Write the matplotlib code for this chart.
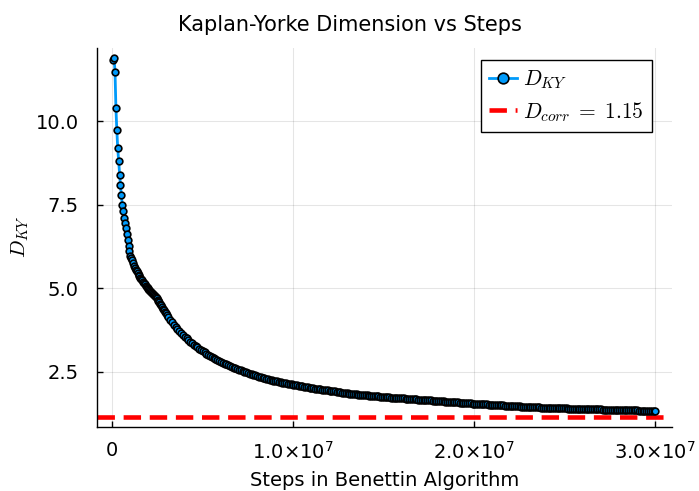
import numpy as np
import matplotlib
matplotlib.use("Agg")
import matplotlib.pyplot as plt

plt.rcParams['font.family'] = ['DejaVu Sans']
plt.rcParams['mathtext.fontset'] = 'cm'

# Kaplan-Yorke dimension estimates along the Benettin run
# first 3e6 steps sampled every 5e4 steps
early_steps = np.arange(1, 61) * 5e4
early_dky = [
    11.83, 11.89, 11.49, 10.40, 9.74, 9.19, 8.81, 8.39, 8.08, 7.78,
    7.50, 7.32, 7.10, 6.95, 6.80, 6.62, 6.45, 6.27, 6.12, 5.98,
    5.91, 5.84, 5.75, 5.68, 5.62, 5.56, 5.51, 5.46, 5.41, 5.37,
    5.32, 5.28, 5.24, 5.20, 5.16, 5.12, 5.08, 5.04, 5.01, 4.98,
    4.95, 4.92, 4.89, 4.86, 4.83, 4.80, 4.76, 4.73, 4.70, 4.66,
    4.62, 4.58, 4.54, 4.49, 4.44, 4.38, 4.34, 4.29, 4.25, 4.21,
]
# remainder of the run sampled every 1e5 steps
late_steps = np.arange(31, 301) * 1e5
late_dky = [
    4.13, 4.05, 3.98, 3.91, 3.84, 3.78, 3.72, 3.67, 3.61, 3.55,
    3.50, 3.45, 3.40, 3.35, 3.31, 3.27, 3.23, 3.19, 3.15, 3.11,
    3.08, 3.04, 3.01, 2.97, 2.94, 2.91, 2.88, 2.85, 2.82, 2.79,
    2.77, 2.74, 2.72, 2.69, 2.67, 2.65, 2.62, 2.60, 2.58, 2.56,
    2.54, 2.52, 2.50, 2.48, 2.46, 2.44, 2.42, 2.41, 2.39, 2.37,
    2.35, 2.34, 2.32, 2.31, 2.29, 2.28, 2.26, 2.25, 2.23, 2.22,
    2.21, 2.20, 2.18, 2.17, 2.16, 2.15, 2.14, 2.13, 2.12, 2.11,
    2.10, 2.09, 2.08, 2.07, 2.06, 2.05, 2.04, 2.03, 2.02, 2.01,
    2.00, 1.99, 1.99, 1.98, 1.97, 1.96, 1.95, 1.95, 1.94, 1.93,
    1.92, 1.91, 1.91, 1.90, 1.89, 1.88, 1.87, 1.87, 1.86, 1.85,
    1.84, 1.84, 1.83, 1.83, 1.82, 1.81, 1.81, 1.80, 1.80, 1.79,
    1.79, 1.78, 1.78, 1.77, 1.77, 1.76, 1.76, 1.75, 1.75, 1.74,
    1.74, 1.73, 1.73, 1.72, 1.72, 1.72, 1.71, 1.71, 1.70, 1.70,
    1.70, 1.69, 1.69, 1.68, 1.68, 1.68, 1.67, 1.67, 1.66, 1.66,
    1.66, 1.65, 1.65, 1.64, 1.64, 1.64, 1.63, 1.63, 1.62, 1.62,
    1.62, 1.61, 1.61, 1.60, 1.60, 1.60, 1.59, 1.59, 1.58, 1.58,
    1.58, 1.57, 1.57, 1.56, 1.56, 1.56, 1.55, 1.55, 1.54, 1.54,
    1.54, 1.53, 1.53, 1.53, 1.52, 1.52, 1.52, 1.51, 1.51, 1.51,
    1.50, 1.50, 1.50, 1.49, 1.49, 1.49, 1.48, 1.48, 1.48, 1.47,
    1.47, 1.47, 1.46, 1.46, 1.46, 1.45, 1.45, 1.45, 1.44, 1.44,
    1.44, 1.44, 1.43, 1.43, 1.43, 1.43, 1.42, 1.42, 1.42, 1.42,
    1.42, 1.41, 1.41, 1.41, 1.41, 1.41, 1.40, 1.40, 1.40, 1.40,
    1.40, 1.39, 1.39, 1.39, 1.39, 1.39, 1.38, 1.38, 1.38, 1.38,
    1.38, 1.38, 1.38, 1.37, 1.37, 1.37, 1.37, 1.37, 1.37, 1.37,
    1.36, 1.36, 1.36, 1.36, 1.36, 1.36, 1.35, 1.35, 1.35, 1.35,
    1.35, 1.35, 1.35, 1.34, 1.34, 1.34, 1.34, 1.34, 1.34, 1.34,
    1.33, 1.33, 1.33, 1.33, 1.33, 1.33, 1.32, 1.32, 1.32, 1.32,
]
d_corr = 1.15

x_ticks = [0, 1e7, 2e7, 3e7]
x_tick_labels = ['0',
                 r'$\mathregular{1.0{\times}10^{7}}$',
                 r'$\mathregular{2.0{\times}10^{7}}$',
                 r'$\mathregular{3.0{\times}10^{7}}$']
y_ticks = [2.5, 5.0, 7.5, 10.0]
y_tick_labels = ['2.5', '5.0', '7.5', '10.0']

steps = np.concatenate([early_steps, late_steps])
dky = np.array(early_dky + late_dky)

fig = plt.figure(figsize=(6.99, 4.91), dpi=100)
ax = fig.add_axes([97 / 699, 1 - 427 / 491, (672 - 97) / 699, (427 - 48) / 491])

ax.plot(steps, dky, color='#009AFA', lw=2, marker='o', ms=4.8,
        mfc='#009AFA', mec='black', mew=1.2, label=r'$D_{KY}$', zorder=3)
ax.axhline(d_corr, color='#FF0000', lw=3.3, ls=(0, (3.8, 1.9)),
           label=r'$D_{corr}\;=\;1.15$', zorder=2)

ax.set_xlim(-8.45e5, 3.092e7)
ax.set_ylim(0.84, 12.2)
ax.set_xticks(x_ticks)
ax.set_xticklabels(x_tick_labels)
ax.set_yticks(y_ticks)
ax.set_yticklabels(y_tick_labels)
ax.tick_params(direction='in', length=4, width=1, labelsize=14)
ax.tick_params(axis='y', pad=13)
ax.tick_params(axis='x', pad=10)

ax.grid(True, color='black', alpha=0.1, lw=0.8)
for s in ['top', 'right']:
    ax.spines[s].set_visible(False)
for s in ['left', 'bottom']:
    ax.spines[s].set_linewidth(1)

fig.text(0.5, 1 - 25 / 491, 'Kaplan-Yorke Dimension vs Steps',
         fontsize=15, ha='center', va='center')
fig.text((97 + 672) / 2 / 699, 1 - 480 / 491, 'Steps in Benettin Algorithm',
         fontsize=14, ha='center', va='center')
fig.text(20 / 699, 1 - 237 / 491, r'$D_{KY}$', fontsize=15,
         ha='center', va='center', rotation=90)

leg = ax.legend(loc='upper right', bbox_to_anchor=(0.965, 0.968),
                borderaxespad=0, fontsize=15.5, fancybox=False,
                framealpha=1, edgecolor='black', handlelength=1.3,
                handletextpad=0.25, borderpad=0.4, labelspacing=0.4,
                markerscale=1.6)
leg.get_frame().set_linewidth(1)

fig.savefig('out.png', dpi=100)
